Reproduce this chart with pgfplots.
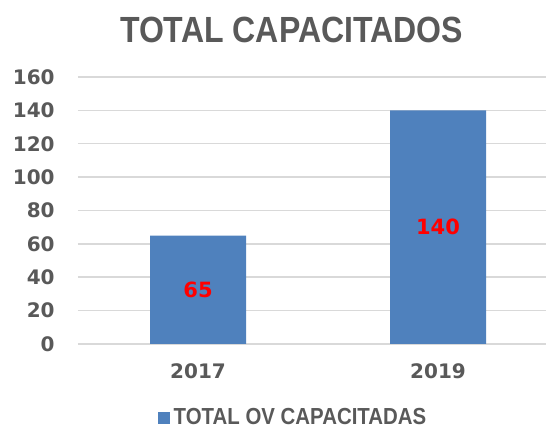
\documentclass[border=0pt]{standalone}
\usepackage{pgfplots}
\pgfplotsset{compat=1.18}
\usepackage{fontspec}
\setmainfont{DejaVu Sans}
\newfontfamily\titlefont[FakeStretch=0.88]{Liberation Sans}
\definecolor{barblue}{HTML}{4F81BD}
\definecolor{txtgray}{HTML}{595959}
\definecolor{gridgray}{HTML}{D9D9D9}
\begin{document}
\begin{tikzpicture}
\begin{axis}[
  at={(0,0)}, anchor=south west,
  scale only axis, width=234pt, height=133.5pt,
  xmin=-0.5, xmax=1.45, ymin=0, ymax=160,
  ytick={0,20,...,160},
  xtick={0,1}, xticklabels={2017,2019},
  axis line style={draw=none},
  major tick length=0pt,
  ymajorgrids, grid style={draw=gridgray, line width=0.75pt},
  /pgf/number format/assume math mode=true,
  tick label style={font=\bfseries\fontsize{10}{12}\selectfont, text=txtgray},
  yticklabel style={anchor=east, inner sep=0pt, xshift=-11.5pt},
  xticklabel style={anchor=north, inner sep=0pt, yshift=-9.5pt},
  ybar, bar width=48pt,
  legend style={at={(axis description cs:0.4615,-0.277)}, anchor=center, draw=none,
    inner sep=0pt, font=\titlefont\bfseries\fontsize{11.6}{13}\selectfont, text=txtgray,
    /tikz/every even column/.append style={column sep=0pt}},
  legend image code/.code={\fill[barblue] (0pt,-3pt) rectangle (6pt,3pt);},
  legend cell align=left,
]
\addplot[fill=barblue, draw=none,
  nodes near coords,
  visualization depends on=y \as \rawy,
  every node near coord/.append style={shift={(axis direction cs:0,-\rawy/2)}, anchor=center,
    font=\bfseries\fontsize{10.5}{12}\selectfont, text=red}]
  coordinates {(0,65) (1,140)};
\addlegendentry{TOTAL OV CAPACITADAS}
\end{axis}
\node[font=\titlefont\bfseries\fontsize{18.2}{20}\selectfont, text=txtgray, inner sep=0pt] at (106.75pt,157pt) {TOTAL CAPACITADOS};
\pgfresetboundingbox
\path[use as bounding box] (-39pt,-44pt) rectangle (234pt,172pt);
\end{tikzpicture}
\end{document}
